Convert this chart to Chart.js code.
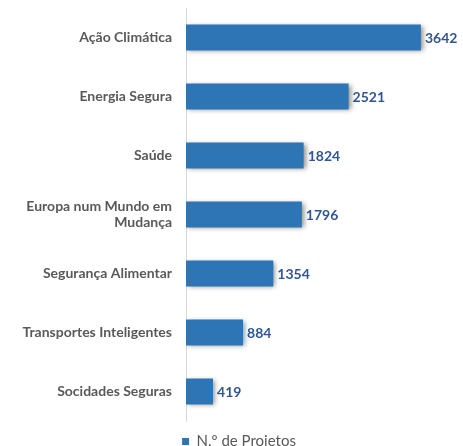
<!DOCTYPE html>
<html>
<head>
<meta charset="utf-8">
<script src="https://cdn.jsdelivr.net/npm/chart.js@4"></script>
<style>
  html, body { margin: 0; padding: 0; background: #fff; }
  #wrap { width: 463px; height: 446px; }
</style>
</head>
<body>
<div id="wrap"><canvas id="chart"></canvas></div>
<script>
const categories = [
    'Ação Climática',
    'Energia Segura',
    'Saúde',
    ['Europa num Mundo em', 'Mudança'],
    'Segurança Alimentar',
    'Transportes Inteligentes',
    'Socidades Seguras'
];
const projects = [3642, 2521, 1824, 1796, 1354, 884, 419];
const seriesName = 'N.º de Projetos';

const barColor = '#2E75B6';
const valueColor = '#2F5597';

// sombra das barras
const shadowPlugin = {
    id: 'barShadow',
    beforeDatasetsDraw(chart) {
        const ctx = chart.ctx;
        ctx.save();
        ctx.shadowColor = 'rgba(0, 0, 0, 0.45)';
        ctx.shadowBlur = 5;
        ctx.shadowOffsetX = 2;
        ctx.shadowOffsetY = 1;
    },
    afterDatasetsDraw(chart) {
        chart.ctx.restore();
    }
};

// etiquetas de valor no fim das barras
const valueLabels = {
    id: 'valueLabels',
    afterDatasetsDraw(chart) {
        const ctx = chart.ctx;
        const meta = chart.getDatasetMeta(0);
        ctx.save();
        ctx.shadowColor = 'transparent';
        ctx.font = 'bold 14px Lato, "Open Sans", sans-serif';
        ctx.fillStyle = valueColor;
        ctx.textAlign = 'left';
        ctx.textBaseline = 'middle';
        meta.data.forEach((bar, i) => {
            ctx.fillText(String(projects[i]), bar.x + 4, bar.y + 1);
        });
        ctx.restore();
    }
};

// desplazar la leyenda para alinearla con el eje
const legendShift = {
    id: 'legendShift',
    afterLayout(chart) {
        const lg = chart.legend;
        lg.left += 17;
        lg.right += 17;
        lg.top += 3;
        lg.bottom += 3;
    }
};

new Chart(document.getElementById('chart'), {
    type: 'bar',
    data: {
        labels: categories,
        datasets: [{
            label: seriesName,
            data: projects,
            backgroundColor: barColor,
            borderWidth: 0,
            categoryPercentage: 1,
            barPercentage: 0.44
        }]
    },
    options: {
        indexAxis: 'y',
        responsive: true,
        maintainAspectRatio: false,
        animation: false,
        layout: {
            padding: { top: 8, right: 19, left: 0, bottom: -10 }
        },
        plugins: {
            legend: {
                position: 'bottom',
                labels: {
                    boxWidth: 7,
                    boxHeight: 7,
                    padding: 10,
                    color: '#595959',
                    font: { family: 'Lato, "Open Sans", sans-serif', size: 15 }
                }
            },
            tooltip: { enabled: false }
        },
        scales: {
            x: {
                display: false,
                min: 0,
                max: 4000
            },
            y: {
                grid: { display: false, drawTicks: false },
                border: { color: '#d9d9d9', width: 1 },
                ticks: {
                    color: '#595959',
                    padding: 14,
                    font: { family: 'Lato, "Open Sans", sans-serif', size: 14, weight: 'bold' }
                },
                afterFit(scale) {
                    scale.width = 186;
                    scale.paddingTop = 0;
                    scale.paddingBottom = 0;
                }
            }
        }
    },
    plugins: [shadowPlugin, valueLabels, legendShift]
});
</script>
</body>
</html>
